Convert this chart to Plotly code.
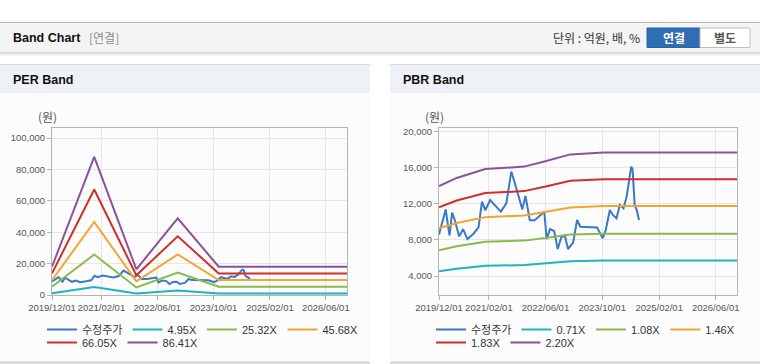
import plotly.graph_objects as go

W, H = 760, 364

# ---------------- data ----------------
tick_vals = ['2019-12-01', '2021-02-01', '2022-06-01', '2023-10-01', '2025-02-01', '2026-06-01']
tick_text = ['2019/12/01', '2021/02/01', '2022/06/01', '2023/10/01', '2025/02/01', '2026/06/01']

price_dates = ['2019-12-01', '2020-01-28', '2020-02-15', '2020-03-01', '2020-03-22', '2020-04-15',
               '2020-05-22', '2020-06-25', '2020-08-01', '2020-09-22', '2020-11-04', '2020-12-04',
               '2021-01-01', '2021-02-12', '2021-03-10', '2021-05-15', '2021-07-01', '2021-08-12',
               '2021-09-12', '2021-10-15', '2021-11-15', '2021-12-12', '2022-01-01', '2022-01-18',
               '2022-03-01', '2022-04-15', '2022-05-22', '2022-06-12', '2022-07-10', '2022-08-15',
               '2022-09-15', '2022-10-15', '2022-11-15', '2022-12-12', '2023-01-25', '2023-02-28',
               '2023-03-28', '2023-08-18', '2023-09-15', '2023-10-06', '2023-11-01', '2023-12-06',
               '2024-01-01', '2024-02-01', '2024-03-01', '2024-04-01', '2024-04-28', '2024-05-15',
               '2024-06-06', '2024-06-18', '2024-07-06', '2024-07-24', '2024-08-12']
price_vals = [8600, 11400, 9670, 8500, 11030, 10200,
              8400, 9200, 8100, 8700, 9400, 12260,
              11300, 12440, 12070, 11150, 12070, 15600,
              14300, 12850, 11400, 12900, 11500, 10200,
              10200, 10700, 11150, 8100, 9200, 9000,
              7000, 8300, 8500, 7000, 7700, 10220,
              9480, 9400, 8740, 8200, 9110, 11330,
              10780, 10410, 11890, 11520, 12800, 14300,
              16150, 15850, 11890, 11330, 10220]

per_dates = ['2019-12-01', '2020-12-01', '2021-12-01', '2022-11-25', '2023-11-15', '2026-12-01']
per_names = ['4.95X', '25.32X', '45.68X', '66.05X', '86.41X']
per_495 = [1030, 5040, 940, 2800, 1030, 1030]
per_2532 = [5270, 25780, 4810, 14330, 5270, 5270]
per_4568 = [9500, 46500, 8680, 25850, 9500, 9500]
per_6605 = [13750, 67240, 12550, 37400, 13750, 13750]
per_8641 = [18000, 88000, 16400, 48900, 18000, 18000]

pbr_dates = ['2019-12-01', '2020-05-01', '2021-01-01', '2021-12-01', '2022-05-15', '2023-01-01',
             '2023-10-15', '2026-12-01']
pbr_names = ['0.71X', '1.08X', '1.46X', '1.83X', '2.20X']
pbr_071 = [4520, 4810, 5130, 5210, 5390, 5650, 5720, 5720]
pbr_108 = [6870, 7310, 7800, 7930, 8200, 8600, 8700, 8700]
pbr_146 = [9290, 9880, 10540, 10720, 11080, 11620, 11770, 11770]
pbr_183 = [11640, 12390, 13210, 13430, 13890, 14570, 14750, 14750]
pbr_220 = [13990, 14890, 15880, 16150, 16700, 17510, 17730, 17730]

price_name = '수정주가'
per_y_ticks = [0, 20000, 40000, 60000, 80000, 100000]
pbr_y_ticks = [4000, 8000, 12000, 16000, 20000]

# ---------------- style ----------------
C_PRICE = '#3a78c8'
BAND_COLORS = ['#1fb3c2', '#8cb94c', '#f0a630', '#cf2f27', '#8f4f9f']
LATIN = 'Liberation Sans, Noto Sans CJK KR, sans-serif'
KR = 'Noto Sans CJK KR, Liberation Sans, sans-serif'


def px(x):
    return x / W


def py(y):
    return 1 - y / H


fig = go.Figure()

# PER subplot traces
fig.add_trace(go.Scatter(x=price_dates, y=price_vals, name=price_name, mode='lines',
                         line=dict(color=C_PRICE, width=2), xaxis='x', yaxis='y', legend='legend'))
per_series = [per_495, per_2532, per_4568, per_6605, per_8641]
for i, (nm, vals) in enumerate(zip(per_names, per_series)):
    fig.add_trace(go.Scatter(x=per_dates, y=vals, name=nm, mode='lines',
                             line=dict(color=BAND_COLORS[i], width=2), xaxis='x', yaxis='y',
                             legend='legend' if i < 3 else 'legend2'))

# PBR subplot traces
fig.add_trace(go.Scatter(x=price_dates, y=price_vals, name=price_name, mode='lines',
                         line=dict(color=C_PRICE, width=2), xaxis='x2', yaxis='y2', legend='legend3'))
pbr_series = [pbr_071, pbr_108, pbr_146, pbr_183, pbr_220]
for i, (nm, vals) in enumerate(zip(pbr_names, pbr_series)):
    fig.add_trace(go.Scatter(x=pbr_dates, y=vals, name=nm, mode='lines',
                             line=dict(color=BAND_COLORS[i], width=2), xaxis='x2', yaxis='y2',
                             legend='legend3' if i < 3 else 'legend4'))

axis_common = dict(showline=True, mirror=True, linecolor='#b4b4b4', linewidth=1,
                   gridcolor='#e6e6e6', gridwidth=1, zeroline=False, automargin=False,
                   ticks='outside', ticklen=4, tickcolor='#b4b4b4', tickangle=0,
                   tickfont=dict(family=LATIN, size=9.5, color='#555'), fixedrange=True)

xaxis_common = dict(axis_common, type='date', range=['2019-12-01', '2026-12-01'],
                    tickmode='array', tickvals=tick_vals, ticktext=tick_text)

legend_common = dict(orientation='h', xanchor='left', yanchor='top', bgcolor='rgba(0,0,0,0)',
                     font=dict(family=LATIN, size=11, color='#333'), itemwidth=30,
                     tracegroupgap=0)

LEG_ROW1 = 315
LEG_ROW2 = 328

fig.update_layout(
    width=W, height=H, margin=dict(l=0, r=0, t=0, b=0, autoexpand=False),
    paper_bgcolor='white', plot_bgcolor='white', showlegend=True,
    xaxis=dict(xaxis_common, domain=[px(52), px(347)], anchor='y'),
    yaxis=dict(axis_common, domain=[py(295), py(128)], anchor='x', range=[0, 106400],
               tickmode='array', tickvals=per_y_ticks, tickformat=',d'),
    xaxis2=dict(xaxis_common, domain=[px(439), px(737)], anchor='y2'),
    yaxis2=dict(axis_common, domain=[py(295), py(128)], anchor='x2', range=[1890, 20440],
                tickmode='array', tickvals=pbr_y_ticks, tickformat=',d'),
    legend=dict(legend_common, x=px(42), y=py(LEG_ROW1)),
    legend2=dict(legend_common, x=px(42), y=py(LEG_ROW2)),
    legend3=dict(legend_common, x=px(431), y=py(LEG_ROW1)),
    legend4=dict(legend_common, x=px(431), y=py(LEG_ROW2)),
)

shapes = []


def rect(x0, y0, x1, y1, fill, line_color=None, lw=0):
    shapes.append(dict(type='rect', xref='paper', yref='paper', layer='below',
                       x0=px(x0), x1=px(x1), y0=py(y1), y1=py(y0), fillcolor=fill,
                       line=dict(color=line_color or fill, width=lw)))


def hline(x0, x1, y, color, lw=1):
    shapes.append(dict(type='line', xref='paper', yref='paper', layer='below',
                       x0=px(x0), x1=px(x1), y0=py(y), y1=py(y), line=dict(color=color, width=lw)))


# top header bar
rect(0, 22, 760, 53, '#f4f4f4')
hline(0, 760, 22.5, '#b4b4b4', 1)
hline(0, 760, 53, '#c4c4c4', 1)
hline(0, 760, 54, '#dedede', 1)
hline(0, 760, 55, '#efefef', 1)

# buttons
rect(647, 28, 700, 47.5, '#2f6db5', '#2a64a8', 1)
rect(700, 28, 750, 47.5, '#ffffff', '#bdbdbd', 1)

# panels
for x0, x1 in [(0, 370), (390, 760)]:
    rect(x0, 93, x1, 362, '#fcfcfc')
    rect(x0, 64, x1, 93, '#eef2f7')
    hline(x0, x1, 64.5, '#dadada', 1)
    hline(x0, x1, 362.5, '#d0d0d0', 2)

fig.update_layout(shapes=shapes)

ann = []


def text(x, y, s, size=12, color='#222', family=LATIN, xanchor='left'):
    ann.append(dict(xref='paper', yref='paper', x=px(x), y=py(y), text=s, showarrow=False,
                    xanchor=xanchor, yanchor='middle', font=dict(family=family, size=size, color=color)))


text(11, 38, '<b>Band Chart</b>', 12.5, '#111', LATIN)
text(87, 38, '[연결]', 12, '#8a8a8a', KR)
text(642, 38, '단위 : 억원, 배, %', 12, '#333', KR, 'right')
text(673.5, 38, '<b>연결</b>', 12, '#ffffff', KR, 'center')
text(725, 38, '<b>별도</b>', 12, '#555555', KR, 'center')
text(11, 80, '<b>PER Band</b>', 12.5, '#111', LATIN)
text(401, 80, '<b>PBR Band</b>', 12.5, '#111', LATIN)
text(47, 117, '(원)', 12, '#555', KR, 'center')
text(434, 117, '(원)', 12, '#555', KR, 'center')

fig.update_layout(annotations=ann)

fig.write_html('out.html', config={'displayModeBar': False},
               post_script="document.body.style.margin='0';document.body.style.overflow='hidden';")
